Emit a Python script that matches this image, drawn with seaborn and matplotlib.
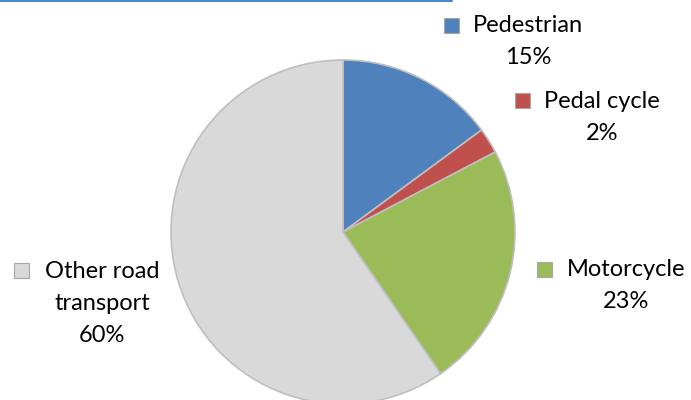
import matplotlib
matplotlib.use("Agg")
import matplotlib.pyplot as plt
import seaborn as sns
from matplotlib.patches import Rectangle
from matplotlib.lines import Line2D

categories = ["Pedestrian", "Pedal cycle", "Motorcycle", "Other road transport"]
shares = [14.9, 2.4, 23.1, 59.6]
colors = ["#4F81BD", "#C0504D", "#9BBB59", "#D9D9D9"]

# label text lines (first line gets the marker)
label_lines = [["Pedestrian"], ["Pedal cycle"], ["Motorcycle"], ["Other road", "transport"]]

sns.set_theme(style="white")
plt.rcParams["font.family"] = ["Lato", "DejaVu Sans"]

W, H = 691, 400
fig = plt.figure(figsize=(W / 100, H / 100), dpi=100)
ax = fig.add_axes([0, 0, 1, 1])

# y axis gets inverted below, so start at 270 and go counterclockwise in data
# space -> starts at the top and runs clockwise on screen
wedges, _ = ax.pie(shares, colors=colors, startangle=270, counterclock=True,
                   center=(343, 232), radius=172,
                   wedgeprops=dict(edgecolor="#BFBFBF", linewidth=1.2))
ax.set_xlim(0, W)
ax.set_ylim(H, 0)
ax.set_aspect("equal")
ax.axis("off")

# label layout: center x of text, y of first line, marker left edge
layout = [(528, 26, 444), (602, 101, 515), (626, 270, 537), (102, 271, 14)]
line_gap = 32
fs = 17
for lines, share, col, (cx, y0, mx) in zip(label_lines, shares, colors, layout):
    all_lines = lines + [f"{round(share):.0f}%"]
    for i, t in enumerate(all_lines):
        ax.text(cx, y0 + i * line_gap, t, ha="center", va="center",
                fontsize=fs, color="black")
    ax.add_patch(Rectangle((mx, y0 - 8), 15, 15, facecolor=col,
                           edgecolor="#A6A6A6", linewidth=0.8))

# thin blue rule along the top edge
fig.add_artist(Line2D([0, 452 / W], [0.998, 0.998], color="#4A86D0",
                      linewidth=1.5, transform=fig.transFigure))

fig.savefig("out.png", dpi=100)
